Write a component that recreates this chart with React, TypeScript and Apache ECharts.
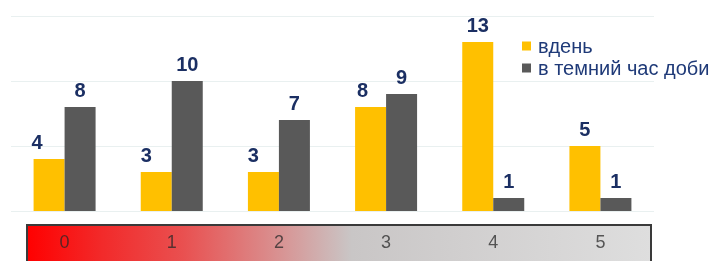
import React, { useEffect, useRef } from "react";
import * as echarts from "echarts";

const categories = ["0", "1", "2", "3", "4", "5"];
const dayValues = [4, 3, 3, 8, 13, 5];
const darkValues = [8, 10, 7, 9, 1, 1];
const dayLabelShift = [-12, -10, -10, -8, 0, 0];
const seriesNames = ["вдень", "в темний час доби"];

export default function App() {
  const ref = useRef<HTMLDivElement>(null);
  useEffect(() => {
    if (!ref.current) return;
    const chart = echarts.init(ref.current, null, { renderer: "svg" });
    const font = "'Liberation Sans', Arial, sans-serif";
    const labelStyle = {
      show: true,
      position: "top" as const,
      distance: 7,
      color: "#1b2f63",
      fontWeight: "bold" as const,
      fontSize: 20,
      fontFamily: font,
    };
    chart.setOption({
      animation: false,
      grid: { left: 11, right: 64, top: 16, bottom: 50 },
      legend: {
        orient: "vertical",
        left: 517,
        top: 31,
        itemWidth: 9,
        itemHeight: 9,
        itemGap: 2,
        icon: "rect",
        textStyle: { color: "#1f3a78", fontSize: 20, fontFamily: font, padding: [0, 0, 0, 2] },
        data: seriesNames,
      },
      graphic: [
        {
          type: "rect",
          z: -1,
          shape: { x: 27, y: 225, width: 624, height: 50 },
          style: {
            fill: new echarts.graphic.LinearGradient(0, 0, 1, 0, [
              { offset: 0, color: "#ff0000" },
              { offset: 0.12, color: "#f22a2a" },
              { offset: 0.25, color: "#e95050" },
              { offset: 0.4, color: "#d99090" },
              { offset: 0.52, color: "#c9c6c6" },
              { offset: 1, color: "#dedede" },
            ]),
            stroke: "#3a3a3a",
            lineWidth: 2,
          },
        },
      ],
      xAxis: {
        type: "category",
        data: categories,
        axisLine: { show: false },
        axisTick: { show: false },
        axisLabel: {
          margin: 22,
          fontSize: 18,
          color: "rgba(40,40,40,0.75)",
          fontFamily: font,
        },
      },
      yAxis: {
        type: "value",
        min: 0,
        max: 15,
        interval: 5,
        axisLabel: { show: false },
        axisLine: { show: false },
        axisTick: { show: false },
        splitLine: { lineStyle: { color: "#e9f0f0", width: 1 } },
      },
      series: [
        {
          name: seriesNames[0],
          type: "bar",
          barWidth: 31,
          barGap: "0%",
          itemStyle: { color: "#ffc000" },
          label: labelStyle,
          data: dayValues.map((v, i) => ({
            value: v,
            label: { offset: [dayLabelShift[i], 0] },
          })),
        },
        {
          name: seriesNames[1],
          type: "bar",
          barWidth: 31,
          barGap: "0%",
          itemStyle: { color: "#595959" },
          label: labelStyle,
          data: darkValues,
        },
      ],
    });
    return () => chart.dispose();
  }, []);
  return (
    <div
      ref={ref}
      style={{ position: "fixed", left: 0, top: 0, width: 718, height: 261 }}
    />
  );
}
